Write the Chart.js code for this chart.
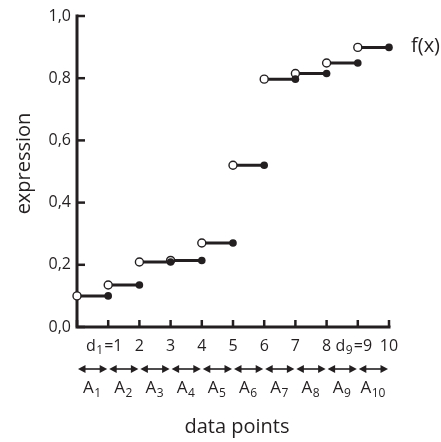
<!DOCTYPE html>
<html>
<head>
<meta charset="utf-8">
<script src="https://cdn.jsdelivr.net/npm/chart.js@4/dist/chart.umd.min.js"></script>
<style>
  html, body { margin: 0; padding: 0; background: #fff; }
  #wrap { width: 441px; height: 442px; }
</style>
</head>
<body>
<div id="wrap"><canvas id="c" width="441" height="442"></canvas></div>
<script>
// ---- data ----
const dataPoints = [0, 1, 2, 3, 4, 5, 6, 7, 8, 9, 10];
const stepValues = [0.10, 0.135, 0.209, 0.214, 0.27, 0.52, 0.797, 0.815, 0.849, 0.899];
// "_" marks a subscript
const xTickLabels = ['', 'd_1=1', '2', '3', '4', '5', '6', '7', '8', 'd_9=9', '10'];
const yTickLabels = ['0,0', '0,2', '0,4', '0,6', '0,8', '1,0'];
const intervalLabels = ['A_1', 'A_2', 'A_3', 'A_4', 'A_5', 'A_6', 'A_7', 'A_8', 'A_9', 'A_10'];
const seriesLabel = 'f(x)';
const xTitle = 'data points';
const yTitle = 'expression';

// ---- build datasets ----
const lineData = [];
const openData = [];
const closedData = [];
stepValues.forEach((v, i) => {
  const x0 = dataPoints[i], x1 = dataPoints[i + 1];
  lineData.push({x: x0, y: v}, {x: x1, y: v}, {x: x1, y: null});
  openData.push({x: x0, y: v});
  closedData.push({x: x1, y: v});
});

const INK = '#231f20';
const FONT = "'Open Sans', 'DejaVu Sans', sans-serif";

function drawRich(ctx, text, cx, baseY, size, subSize, drop) {
  const parts = [];
  const m = text.match(/^([^_]*)(?:_(\d+)(.*))?$/);
  parts.push({t: m[1], sub: false});
  if (m[2]) { parts.push({t: m[2], sub: true}); parts.push({t: m[3] || '', sub: false}); }
  let total = 0;
  parts.forEach(p => {
    ctx.font = (p.sub ? subSize : size) + 'px ' + FONT;
    p.w = ctx.measureText(p.t).width + (p.sub ? 1.5 : 0);
    total += p.w;
  });
  let x = cx - total / 2;
  ctx.textAlign = 'left';
  ctx.textBaseline = 'alphabetic';
  parts.forEach(p => {
    ctx.font = (p.sub ? subSize : size) + 'px ' + FONT;
    ctx.fillText(p.t, x + (p.sub ? 0.5 : 0), baseY + (p.sub ? drop : 0));
    x += p.w;
  });
}

const decor = {
  id: 'decor',
  beforeDatasetsDraw(chart) {
    const ctx = chart.ctx;
    const xs = chart.scales.x, ys = chart.scales.y;
    const L = xs.getPixelForValue(dataPoints[0]);
    const R = xs.getPixelForValue(dataPoints[dataPoints.length - 1]);
    const T = ys.getPixelForValue(1);
    const B = ys.getPixelForValue(0);
    ctx.save();
    ctx.strokeStyle = INK;
    ctx.lineWidth = 3;
    ctx.lineCap = 'square';
    ctx.beginPath();
    ctx.moveTo(L, T); ctx.lineTo(L, B); ctx.lineTo(R, B);
    ctx.stroke();
    ctx.lineWidth = 2.5;
    ctx.lineCap = 'butt';
    xs.ticks.forEach(t => {
      const px = xs.getPixelForValue(t.value);
      ctx.beginPath(); ctx.moveTo(px, B); ctx.lineTo(px, B - 7); ctx.stroke();
    });
    ys.ticks.forEach(t => {
      const py = ys.getPixelForValue(t.value);
      ctx.beginPath(); ctx.moveTo(L, py); ctx.lineTo(L + 8, py); ctx.stroke();
    });
    ctx.restore();
  },
  afterDraw(chart) {
    const ctx = chart.ctx;
    const xs = chart.scales.x, ys = chart.scales.y;
    const L = xs.getPixelForValue(dataPoints[0]);
    const R = xs.getPixelForValue(dataPoints[dataPoints.length - 1]);
    const T = ys.getPixelForValue(1);
    const B = ys.getPixelForValue(0);
    ctx.save();
    ctx.strokeStyle = INK;
    ctx.fillStyle = INK;
    // x tick labels
    xs.ticks.forEach((t, i) => {
      const lab = xTickLabels[i];
      if (!lab) return;
      const shift = lab.indexOf('_') >= 0 ? -4 : 0;
      drawRich(ctx, lab, xs.getPixelForValue(t.value) + shift, B + 24, 16, 12, 3);
    });
    // arrows + interval labels
    const ay = B + 42;
    for (let i = 0; i < stepValues.length; i++) {
      const a = xs.getPixelForValue(dataPoints[i]) + 1;
      const b = xs.getPixelForValue(dataPoints[i + 1]) - 1;
      ctx.lineWidth = 1.6;
      ctx.beginPath(); ctx.moveTo(a + 4, ay); ctx.lineTo(b - 4, ay); ctx.stroke();
      ctx.beginPath(); ctx.moveTo(a, ay); ctx.lineTo(a + 7.5, ay - 4); ctx.lineTo(a + 7.5, ay + 4); ctx.closePath(); ctx.fill();
      ctx.beginPath(); ctx.moveTo(b, ay); ctx.lineTo(b - 7.5, ay - 4); ctx.lineTo(b - 7.5, ay + 4); ctx.closePath(); ctx.fill();
      const cx = xs.getPixelForValue((dataPoints[i] + dataPoints[i + 1]) / 2);
      drawRich(ctx, intervalLabels[i], cx, B + 66, 17, 12, 4);
    }
    // series label
    const last = stepValues.length - 1;
    ctx.font = '20px ' + FONT;
    ctx.textAlign = 'left';
    ctx.textBaseline = 'middle';
    ctx.fillText(seriesLabel, R + 22, ys.getPixelForValue(stepValues[last]) - 1);
    // axis titles
    ctx.textAlign = 'center';
    ctx.fillText(xTitle, (L + R) / 2 + 4, B + 100);
    ctx.translate(24, (T + B) / 2 - 8);
    ctx.rotate(-Math.PI / 2);
    ctx.fillText(yTitle, 0, 0);
    ctx.restore();
  }
};

new Chart(document.getElementById('c'), {
  type: 'scatter',
  data: {
    datasets: [
      { data: closedData, order: 1, pointStyle: 'circle', pointRadius: 3.8, pointBackgroundColor: INK, pointBorderColor: INK, pointBorderWidth: 0, showLine: false, clip: false },
      { data: openData, order: 2, pointStyle: 'circle', pointRadius: 4, pointBackgroundColor: '#fff', pointBorderColor: INK, pointBorderWidth: 1.4, showLine: false, clip: false },
      { data: lineData, order: 3, showLine: true, spanGaps: false, borderColor: INK, borderWidth: 3, pointRadius: 0, clip: false }
    ]
  },
  options: {
    responsive: false,
    animation: false,
    devicePixelRatio: 1,
    layout: { padding: { top: 16, right: 52, left: 0, bottom: 0 } },
    plugins: { legend: { display: false }, tooltip: { enabled: false } },
    scales: {
      x: {
        type: 'linear', min: 0, max: 10,
        grid: { display: false, drawTicks: false },
        border: { display: false },
        ticks: { display: false, stepSize: 1, autoSkip: false },
        afterFit: s => { s.height = 115; }
      },
      y: {
        type: 'linear', min: 0, max: 1,
        grid: { display: false, drawTicks: false },
        border: { display: false },
        ticks: { stepSize: 0.2, padding: 6, color: INK, font: { family: FONT, size: 16 },
                 callback: (v, i) => yTickLabels[i] },
        afterFit: s => { s.width = 77; }
      }
    }
  },
  plugins: [decor]
});
</script>
</body>
</html>
